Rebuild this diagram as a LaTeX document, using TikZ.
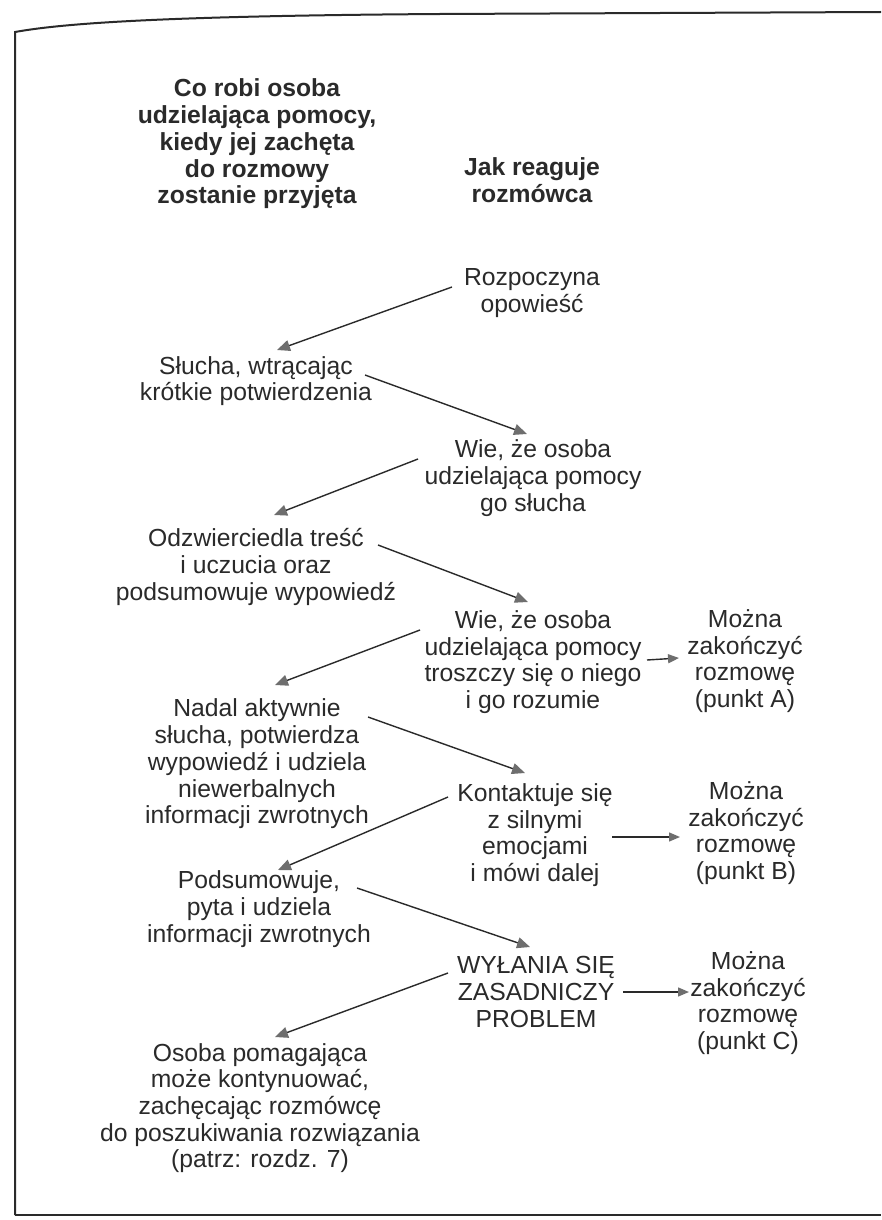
\documentclass[tikz,border=0pt]{standalone}
\usepackage{fontspec}
\setmainfont{Liberation Sans}
\usetikzlibrary{arrows.meta}
\definecolor{ink}{HTML}{2A2A2A}
\definecolor{tipgray}{HTML}{6E6E6E}
\begin{document}
\begin{tikzpicture}[x=1pt,y=-1pt,
  txt/.style={font=\fontsize{24.7pt}{26.7pt}\selectfont, align=center, inner sep=0pt, text=ink},
  head/.style={txt, font=\fontsize{24.7pt}{26.7pt}\selectfont\bfseries},
  arr/.style={draw=ink, line width=1.4pt, -{Triangle[length=13pt,width=11pt,color=tipgray]}},
  sidearr/.style={draw=ink, line width=1.4pt, -{Triangle[length=11pt,width=9pt,color=tipgray]}},
  frameline/.style={draw=ink, line width=2pt}]
\useasboundingbox[fill=white] (0,0) rectangle (881,1220);

% frame
\draw[frameline] (15,1215) -- (15,32) .. controls (60,24) and (150,16) .. (440,14) -- (881,12);
\draw[frameline] (15,1215) -- (881,1215);

% headings
\node[head] (hL) at (257,144) {Co robi osoba\\udzielająca pomocy,\\kiedy jej zachęta\\do rozmowy\\zostanie przyjęta};
\node[head] (hR) at (532,180) {Jak reaguje\\rozmówca};

% right column
\node[txt] (roz) at (532,293) {Rozpoczyna\\opowieść};
\node[txt] (wie1) at (533,478) {Wie, że osoba\\udzielająca pomocy\\go słucha};
\node[txt] (wie2) at (533,662) {Wie, że osoba\\udzielająca pomocy\\troszczy się o niego\\i go rozumie};
\node[txt] (kon) at (535,835) {Kontaktuje się\\z silnymi\\emocjami\\i mówi dalej};
\node[txt] (wyl) at (536,992) {WYŁANIA SIĘ\\ZASADNICZY\\PROBLEM};

% left column
\node[txt] (sl) at (256,381) {Słucha, wtrącając\\krótkie potwierdzenia};
\node[txt] (odz) at (256,567) {Odzwierciedla treść\\i uczucia oraz\\podsumowuje wypowiedź};
\node[txt] (nad) at (257,764) {Nadal aktywnie\\słucha, potwierdza\\wypowiedź i udziela\\niewerbalnych\\informacji zwrotnych};
\node[txt] (pod) at (259,909) {Podsumowuje,\\pyta i udziela\\informacji zwrotnych};
\node[txt] (oso) at (260,1108) {Osoba pomagająca\\może kontynuować,\\zachęcając rozmówcę\\do poszukiwania rozwiązania\\(patrz: rozdz. 7)};

% far right column
\node[txt] (mA) at (745,661) {Można\\zakończyć\\rozmowę\\(punkt A)};
\node[txt] (mB) at (746,833) {Można\\zakończyć\\rozmowę\\(punkt B)};
\node[txt] (mC) at (748,1003) {Można\\zakończyć\\rozmowę\\(punkt C)};

% zig-zag connectors
\draw[arr] ([shift={(-80,-6)}]roz.center) -- ([shift={(21,-31)}]sl.center);
\draw[arr] ([shift={(109,-6)}]sl.center) -- ([shift={(-6,-44)}]wie1.center);
\draw[arr] ([shift={(-115,-19)}]wie1.center) -- ([shift={(18,-52)}]odz.center);
\draw[arr] ([shift={(122,-22)}]odz.center) -- ([shift={(-5,-60)}]wie2.center);
\draw[arr] ([shift={(-113,-32)}]wie2.center) -- ([shift={(18,-79)}]nad.center);
\draw[arr] ([shift={(111,-47)}]nad.center) -- ([shift={(-10,-62)}]kon.center);
\draw[arr] ([shift={(-87,-38)}]kon.center) -- ([shift={(19,-39)}]pod.center);
\draw[arr] ([shift={(98,-21)}]pod.center) -- ([shift={(-6,-45)}]wyl.center);
\draw[arr] ([shift={(-88,-19)}]wyl.center) -- ([shift={(15,-71)}]oso.center);

% side connectors
\draw[sidearr] ([shift={(114,-2)}]wie2.center) -- ([shift={(-66,-3)}]mA.center);
\draw[sidearr] ([shift={(77,2)}]kon.center) -- ([shift={(-66,4)}]mB.center);
\draw[sidearr] ([shift={(87,0)}]wyl.center) -- ([shift={(-59,-11)}]mC.center);
\end{tikzpicture}
\end{document}
